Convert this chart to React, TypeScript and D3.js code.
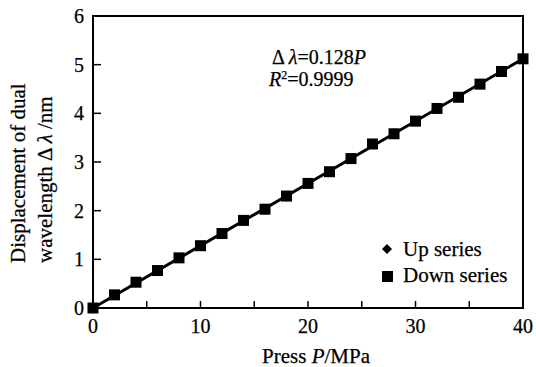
import React from 'react';
import * as d3 from 'd3';

// pressure steps (MPa) and measured wavelength displacement (nm)
const pressures = [0, 2, 4, 6, 8, 10, 12, 14, 16, 18, 20, 22, 24, 26, 28, 30, 32, 34, 36, 38, 40];
const upSeries = [0, 0.27, 0.53, 0.77, 1.03, 1.28, 1.53, 1.8, 2.03, 2.3, 2.56, 2.8, 3.07, 3.37, 3.58, 3.84, 4.1, 4.33, 4.6, 4.86, 5.12];
const downSeries = [0, 0.27, 0.53, 0.77, 1.03, 1.28, 1.53, 1.8, 2.03, 2.3, 2.56, 2.8, 3.07, 3.37, 3.58, 3.84, 4.1, 4.33, 4.6, 4.86, 5.12];
const fitSlope = 0.128;
const xTickLabels = [0, 10, 20, 30, 40];
const xTicks = [0, 5, 10, 15, 20, 25, 30, 35, 40];
const yTicks = [0, 1, 2, 3, 4, 5, 6];

const W = 536;
const H = 367;
const FONT = '"Liberation Serif", "Times New Roman", serif';

export default function App() {
  const m = { top: 16, right: 13, bottom: 59, left: 93 };
  const x = d3.scaleLinear().domain([0, 40]).range([m.left, W - m.right]);
  const y = d3.scaleLinear().domain([0, 6]).range([H - m.bottom, m.top]);

  const fitLine = d3.line<number>().x((p) => x(p)).y((p) => y(fitSlope * p))([0, 40]) || '';
  // rotated square reads wider than d3's diamond, closer to the original marker
  const diamond = d3.symbol().type(d3.symbolSquare).size(56)() || '';
  const txt = { fill: '#000', stroke: '#000', strokeWidth: 0.25 };

  return (
    <svg width={W} height={H} style={{ position: 'absolute', left: 0, top: 0, background: '#fff' }} fontFamily={FONT}>
      {/* frame */}
      <rect x={x(0)} y={y(6)} width={x(40) - x(0)} height={y(0) - y(6)} fill="none" stroke="#000" strokeWidth={2} />

      {/* x ticks */}
      {xTicks.map((t) => (
        <line key={`xt${t}`} x1={x(t)} x2={x(t)} y1={y(0)} y2={y(0) - 7} stroke="#000" strokeWidth={1.5} />
      ))}
      {xTickLabels.map((t) => (
        <text key={`xl${t}`} x={x(t)} y={y(0) + 25} textAnchor="middle" fontSize={20} {...txt}>{t}</text>
      ))}

      {/* y ticks */}
      {yTicks.map((t) => (
        <line key={`yt${t}`} x1={x(0)} x2={x(0) + 8} y1={y(t)} y2={y(t)} stroke="#000" strokeWidth={1.5} />
      ))}
      {yTicks.map((t) => (
        <text key={`yl${t}`} x={x(0) - 9} y={y(t)} dy="0.35em" textAnchor="end" fontSize={20} {...txt}>{t}</text>
      ))}

      {/* fit line */}
      <path d={fitLine} fill="none" stroke="#000" strokeWidth={3} />

      {/* up series (diamonds) */}
      {pressures.map((p, i) => (
        <path key={`u${i}`} d={diamond} transform={`translate(${x(p)},${y(upSeries[i])}) rotate(45)`} fill="#000" />
      ))}
      {/* down series (squares) */}
      {pressures.map((p, i) => (
        <rect key={`d${i}`} x={x(p) - 5.5} y={y(downSeries[i]) - 5.5} width={11} height={11} fill="#000" />
      ))}

      {/* annotation */}
      <text x={272} y={64} fontSize={20} {...txt}>
        Δ <tspan fontStyle="italic">λ</tspan>=0.128<tspan fontStyle="italic">P</tspan>
      </text>
      <text x={269} y={86} fontSize={20} {...txt}>
        <tspan fontStyle="italic">R</tspan><tspan fontSize={12} dy={-7}>2</tspan><tspan dy={7}>=0.9999</tspan>
      </text>

      {/* legend */}
      <path d={d3.symbol().type(d3.symbolSquare).size(50)() || ''} transform="translate(387,249) rotate(45)" fill="#000" />
      <text x={403} y={256} fontSize={21} {...txt}>Up series</text>
      <rect x={382} y={271} width={11} height={11} fill="#000" />
      <text x={403} y={282} fontSize={21} {...txt}>Down series</text>

      {/* axis titles */}
      <text x={316} y={363} textAnchor="middle" fontSize={21} {...txt}>
        Press <tspan fontStyle="italic">P</tspan>/MPa
      </text>
      <text transform="translate(25,263) rotate(-90)" textAnchor="start" fontSize={21} {...txt}>Displacement of dual</text>
      <text transform="translate(52,263) rotate(-90)" textAnchor="start" fontSize={21} {...txt}>
        wavelength Δ <tspan fontStyle="italic">λ</tspan> /nm
      </text>
    </svg>
  );
}
